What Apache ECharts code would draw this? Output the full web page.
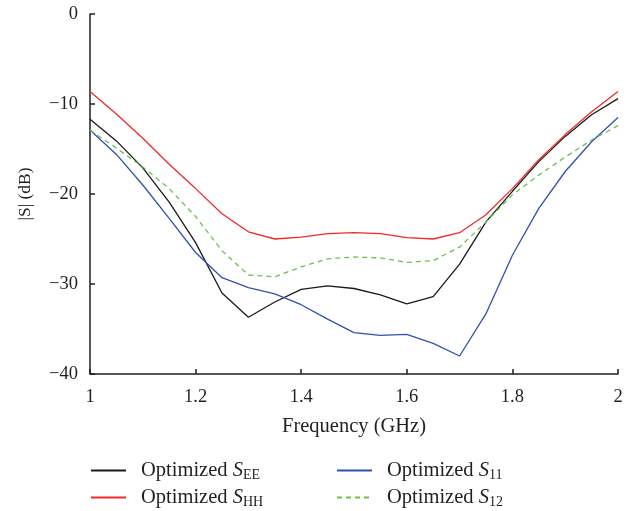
<!DOCTYPE html>
<html>
<head>
<meta charset="utf-8">
<script src="https://cdn.jsdelivr.net/npm/echarts@6/dist/echarts.min.js"></script>
<style>
  html, body { margin: 0; padding: 0; background: #fff; }
  #chart { width: 636px; height: 511px; }
</style>
</head>
<body>
<div id="chart"></div>
<script>
// frequency points (GHz)
var freq = [1.0, 1.05, 1.1, 1.15, 1.2, 1.25, 1.3, 1.35, 1.4, 1.45, 1.5,
            1.55, 1.6, 1.65, 1.7, 1.75, 1.8, 1.85, 1.9, 1.95, 2.0];

// |S| in dB
var sEE = [-11.7, -14.1, -17.1, -20.9, -25.4, -31.0, -33.7, -32.0, -30.6, -30.2, -30.5,
           -31.2, -32.2, -31.4, -27.8, -23.1, -19.7, -16.4, -13.6, -11.2, -9.4];
var sHH = [-8.6, -11.1, -13.8, -16.7, -19.4, -22.2, -24.2, -25.0, -24.8, -24.4, -24.3,
           -24.4, -24.85, -25.0, -24.3, -22.3, -19.4, -16.2, -13.4, -10.85, -8.6];
var s11 = [-12.9, -15.6, -19.0, -22.7, -26.5, -29.3, -30.4, -31.1, -32.3, -33.9, -35.4,
           -35.7, -35.6, -36.6, -38.0, -33.3, -26.8, -21.6, -17.5, -14.2, -11.5];
var s12 = [-12.9, -14.9, -17.0, -19.4, -22.5, -26.3, -29.0, -29.2, -28.1, -27.2, -27.0,
           -27.1, -27.6, -27.4, -25.9, -23.1, -20.1, -17.9, -15.9, -14.0, -12.4];

var seriesNames = ['SEE', 'SHH', 'S11', 'S12'];
var subscripts = { SEE: 'EE', SHH: 'HH', S11: '11', S12: '12' };

var xTicks = { min: 1, max: 2, interval: 0.2 };
var yTicks = { min: -40, max: 0, interval: 10 };

var fontFamily = '"Liberation Serif", "DejaVu Serif", serif';
var textColor = '#231f20';
var axisColor = '#231f20';

function pairs(ys) {
    return freq.map(function(x, i) {
        return [x, ys[i]];
    });
}

function makeSeries(name, ys, color, dashed) {
    return {
        name: name,
        type: 'line',
        data: pairs(ys),
        symbol: 'none',
        smooth: false,
        lineStyle: { color: color, width: 1.3, type: dashed ? [5, 4] : 'solid' },
        itemStyle: { color: color },
        z: 3
    };
}

// two stacked legend columns, as in the figure
function legendFor(names, left) {
    return {
        data: names,
        orient: 'vertical',
        left: left,
        top: 457,
        itemWidth: 35,
        itemHeight: 14,
        itemGap: 0,
        padding: 0,
        selectedMode: false,
        itemStyle: { opacity: 0 },
        textStyle: {
            fontFamily: fontFamily,
            fontSize: 20.5,
            lineHeight: 27,
            color: textColor,
            padding: [0, 0, 0, 10],
            rich: {
                i: { fontFamily: fontFamily, fontStyle: 'italic', fontSize: 20.5, lineHeight: 27, color: textColor },
                sub: { fontFamily: fontFamily, fontSize: 14, color: textColor, padding: [10, 0, 0, 0] }
            }
        },
        formatter: function(name) {
            return 'Optimized {i|S}{sub|' + subscripts[name] + '}';
        }
    };
}

var chart = echarts.init(document.getElementById('chart'));

chart.setOption({
    backgroundColor: '#fff',
    animation: false,
    grid: { left: 90, right: 18, top: 14, bottom: 137 },
    legend: [legendFor(['SEE', 'SHH'], 90), legendFor(['S11', 'S12'], 336)],
    xAxis: {
        type: 'value',
        min: xTicks.min,
        max: xTicks.max,
        interval: xTicks.interval,
        name: 'Frequency (GHz)',
        nameLocation: 'middle',
        nameGap: 42,
        nameTextStyle: { fontFamily: fontFamily, fontSize: 20.5, color: textColor },
        axisLine: { onZero: false, lineStyle: { color: axisColor, width: 1.5 } },
        axisTick: { inside: true, length: 5, lineStyle: { color: axisColor, width: 1.5 } },
        axisLabel: { fontFamily: fontFamily, fontSize: 18.5, color: textColor, margin: 14 },
        splitLine: { show: false }
    },
    yAxis: {
        type: 'value',
        min: yTicks.min,
        max: yTicks.max,
        interval: yTicks.interval,
        name: '|S| (dB)',
        nameLocation: 'middle',
        nameGap: 56,
        nameRotate: 90,
        nameTextStyle: { fontFamily: fontFamily, fontSize: 17.5, color: textColor },
        axisLine: { show: true, onZero: false, lineStyle: { color: axisColor, width: 1.5 } },
        axisTick: { show: true, inside: true, length: 5, lineStyle: { color: axisColor, width: 1.5 } },
        axisLabel: {
            fontFamily: fontFamily, fontSize: 18.5, color: textColor, margin: 12,
            formatter: function(v) {
                return String(v).replace('-', '\u2212');
            }
        },
        splitLine: { show: false }
    },
    series: [
        makeSeries('SEE', sEE, '#1a1a1a', false),
        makeSeries('SHH', sHH, '#ee2a2a', false),
        makeSeries('S11', s11, '#2f52b0', false),
        makeSeries('S12', s12, '#6cc04a', true)
    ]
});
</script>
</body>
</html>
